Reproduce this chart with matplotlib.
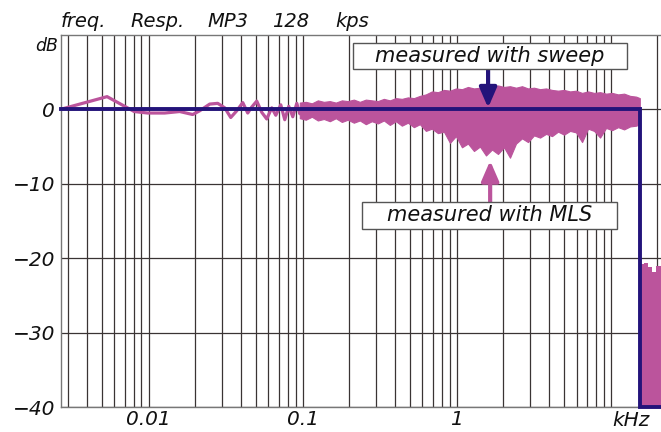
import matplotlib.pyplot as plt
import matplotlib.ticker as mticker
from matplotlib.patches import Rectangle
import numpy as np

plt.rcParams['font.family'] = 'DejaVu Sans'
plt.rcParams['font.style'] = 'oblique'

PINK = '#bb549c'
NAVY = '#23137a'
GRID = '#3a3434'
INK = '#111111'

# MLS trace, sparse low-frequency bins (kHz, dB)
mls_lf_khz = [0.00269, 0.00538, 0.00807, 0.00987, 0.01273, 0.01593, 0.01934,
              0.02148, 0.02495, 0.02812, 0.03123, 0.03416, 0.03737, 0.04088,
              0.04404, 0.04676, 0.05040, 0.05430, 0.05853, 0.06308, 0.06697,
              0.07218, 0.07660, 0.08133, 0.08636, 0.09170, 0.09590]
mls_lf_db = [0.0, 1.7, -0.3, -0.5, -0.5, -0.3, -0.7,
             -0.2, 0.7, 0.8, 0.2, -1.1, -0.2, 0.9,
             -0.5, 0.3, 1.1, -0.4, -1.3, 0.2, -0.8,
             0.6, -1.4, 0.4, -1.0, 0.8, -0.6]

# MLS trace, dense part: upper / lower envelope of the noisy curve
mls_band_khz = [0.0959, 0.1049, 0.1148, 0.1256, 0.1373, 0.1502, 0.1643, 0.1798,
                0.1966, 0.2151, 0.2352, 0.2573, 0.2815, 0.3079, 0.3368, 0.3685,
                0.4031, 0.4409, 0.4823, 0.5276, 0.5772, 0.6314, 0.6907, 0.7556,
                0.8266, 0.9047, 0.9896, 1.0826, 1.1843, 1.2954, 1.4171, 1.5502,
                1.6958, 1.8551, 2.0293, 2.2200, 2.4285, 2.6565, 2.9061, 3.1789,
                3.4775, 3.8042, 4.1614, 4.5523, 4.9799, 5.4475, 5.9592, 6.5190,
                7.1312, 7.8009, 8.5337, 9.3350, 10.212, 11.171, 12.221, 13.368,
                14.624, 15.45]
mls_band_hi = [0.9, 1.0, 0.8, 1.2, 1.0, 1.1, 0.9, 1.2,
               1.1, 1.3, 1.0, 1.3, 1.2, 1.1, 1.4, 1.2,
               1.5, 1.4, 1.6, 1.5, 1.8, 2.0, 2.4, 2.3,
               2.6, 2.5, 2.8, 2.7, 3.0, 2.8, 2.9, 3.1,
               3.0, 3.2, 3.0, 3.1, 2.9, 3.1, 2.8, 2.9,
               2.7, 2.8, 2.6, 2.5, 2.6, 2.4, 2.5, 2.2,
               2.4, 2.2, 2.3, 2.1, 2.2, 2.0, 2.1, 1.8,
               1.7, 1.5]
mls_band_lo = [-1.2, -1.4, -1.0, -1.5, -1.3, -1.6, -1.2, -1.7,
               -1.4, -1.8, -1.5, -2.0, -1.6, -1.9, -1.5, -2.1,
               -1.6, -2.2, -1.8, -2.4, -2.0, -2.9, -2.6, -3.2,
               -3.0, -4.5, -3.6, -5.1, -4.6, -5.6, -5.0, -6.2,
               -5.4, -6.0, -5.1, -6.5, -4.6, -3.9, -4.4, -3.5,
               -3.8, -3.3, -3.6, -3.0, -3.4, -2.9, -3.1, -4.4,
               -2.6, -2.9, -3.8, -2.5, -2.8, -2.4, -2.7, -2.3,
               -2.2, -2.0]

# MLS above the codec cutoff
mls_cut_khz = [15.45, 15.6, 16.5, 17.5, 18.6, 19.8, 21.3, 22.05]
mls_cut_hi = [0.0, -20.7, -20.6, -21.2, -21.9, -21.0, -20.1, -20.5]

# sweep measurement
sweep_khz = [0.00269, 15.5, 15.5, 22.05]
sweep_db = [0.0, 0.0, -40.0, -40.0]

# title words with their left edges (figure pixels)
title_words = ['freq.', 'Resp.', 'MP3', '128', 'kps']
title_left_px = [61, 130, 207, 272, 335]

fig = plt.figure(figsize=(6.61, 4.32), dpi=100)
ax = fig.add_axes([60.7 / 661, 24.7 / 432, 602.9 / 661, 372.5 / 432])
ax.set_xscale('log')
ax.set_xlim(0.00269, 22.05)
ax.set_ylim(-40, 10)

# grid
ax.xaxis.set_major_locator(mticker.FixedLocator([0.01, 0.1, 1, 10]))
ax.xaxis.set_major_formatter(mticker.FixedFormatter(['0.01', '0.1', '1', '']))
ax.xaxis.set_minor_locator(mticker.LogLocator(base=10, subs=np.arange(2, 10)))
ax.xaxis.set_minor_formatter(mticker.NullFormatter())
ax.set_yticks([-40, -30, -20, -10, 0])
ax.set_yticklabels(['\u221240', '\u221230', '\u221220', '\u221210', '0'])
ax.grid(which='both', axis='x', color=GRID, lw=0.9)
ax.grid(which='major', axis='y', color=GRID, lw=0.9)
ax.tick_params(which='both', length=0, labelsize=14.5, colors=INK)
ax.tick_params(axis='x', pad=2)
ax.tick_params(axis='y', pad=4)
ax.set_axisbelow(True)
for side in ['left', 'top', 'bottom', 'right']:
    ax.spines[side].set_color('#777777')
    ax.spines[side].set_linewidth(1.0)

# curves
ax.fill_between(mls_band_khz, mls_band_lo, mls_band_hi,
                color=PINK, lw=0.8, edgecolor=PINK, zorder=3)
ax.plot(mls_lf_khz + [mls_band_khz[0]], mls_lf_db + [0.0], color=PINK,
        lw=2.3, zorder=3)
ax.fill_between(mls_cut_khz, -40, mls_cut_hi, step='post', color=PINK,
                lw=0, zorder=3)
ax.plot(sweep_khz, sweep_db, color=NAVY, lw=2.8, zorder=4, clip_on=False,
        solid_joinstyle='miter')

# labels
ax.annotate('kHz', xy=(10, -40), xytext=(1, -3), textcoords='offset points',
            ha='left', va='top', fontsize=14.5, color=INK)
ax.annotate('dB', xy=(0, 8.5), xycoords=('axes fraction', 'data'),
            xytext=(-2, 0), textcoords='offset points', ha='right',
            va='center', fontsize=12.5, color=INK)
for word, left in zip(title_words, title_left_px):
    fig.text(left / 661, 1 - 27 / 432, word, fontsize=14, color=INK,
             va='baseline')

# callout boxes
arrow_style = '-|>,head_length=0.6,head_width=0.26'
ax.add_patch(Rectangle((0.212, 5.41), 12.79 - 0.212, 8.9 - 5.41,
                       facecolor='white', edgecolor='#555555', lw=1.0,
                       zorder=6))
ax.text(np.sqrt(0.212 * 12.79), 7.15, 'measured with sweep', ha='center',
        va='center', fontsize=15, color=INK, zorder=7)
ax.annotate('', xy=(1.6, 0.2), xytext=(1.6, 5.41),
            arrowprops=dict(arrowstyle=arrow_style, mutation_scale=20,
                            color=NAVY, lw=3, shrinkA=0, shrinkB=0), zorder=5)

ax.add_patch(Rectangle((0.2425, -16.07), 11.0 - 0.2425, 16.07 - 12.44,
                       facecolor='white', edgecolor='#555555', lw=1.0,
                       zorder=6))
ax.text(np.sqrt(0.2425 * 11.0), -14.25, 'measured with MLS', ha='center',
        va='center', fontsize=15, color=INK, zorder=7)
ax.annotate('', xy=(1.65, -6.9), xytext=(1.65, -12.44),
            arrowprops=dict(arrowstyle=arrow_style, mutation_scale=20,
                            color=PINK, lw=3, shrinkA=0, shrinkB=0), zorder=5)

fig.savefig('out.png', dpi=100)
